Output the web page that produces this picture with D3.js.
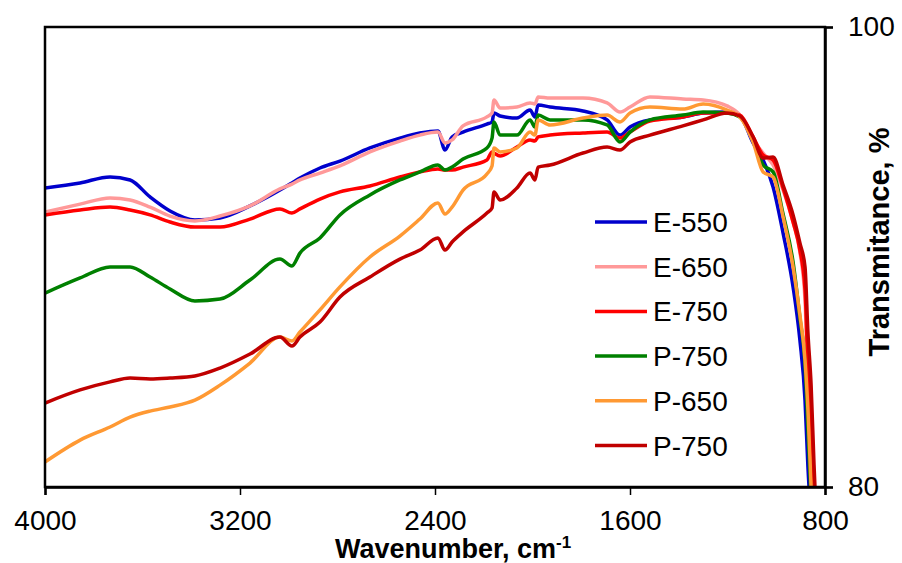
<!DOCTYPE html>
<html>
<head>
<meta charset="utf-8">
<script src="https://cdn.jsdelivr.net/npm/d3@7"></script>
<style>
  body { margin: 0; background: #fff; }
  svg { display: block; font-family: Arial, "Liberation Sans", sans-serif; }
</style>
</head>
<body>
<svg id="chart" width="902" height="563"></svg>
<script>
// wavenumber grid, cm-1 (shared by all spectra)
const wavenumbers = [4000, 3856, 3733, 3651, 3569, 3487, 3385, 3282, 3159, 3036,
  2987, 2954, 2872, 2790, 2667, 2544, 2462, 2388, 2359, 2330,
  2285, 2187, 2166, 2158, 2133, 2064, 2010, 1990, 1977, 1928,
  1793, 1694, 1641, 1600, 1518, 1383, 1300, 1202, 1149, 1095,
  1054, 1013, 972, 931, 903, 882, 870, 857, 845, 829];

// transmittance, %
const e550 = [93.00, 93.22, 93.48, 93.35, 92.61, 92.00, 91.61, 91.70, 92.22, 92.91,
  93.22, 93.43, 93.87, 94.17, 94.74, 95.17, 95.39, 95.48, 94.65, 95.22,
  95.43, 95.78, 95.87, 96.26, 96.13, 96.04, 96.39, 96.09, 96.61, 96.52,
  96.35, 95.96, 95.30, 95.65, 95.96, 96.09, 96.26, 96.30, 96.13, 94.96,
  94.22, 93.04, 91.04, 88.70, 86.39, 83.78, 80.87, 78.57, 76.83, 75.00];
const e650 = [91.96, 92.30, 92.57, 92.48, 92.17, 91.78, 91.57, 91.78, 92.22, 92.96,
  93.17, 93.35, 93.65, 93.96, 94.57, 95.04, 95.30, 95.43, 94.96, 95.09,
  95.70, 96.09, 96.26, 96.83, 96.48, 96.52, 96.70, 96.65, 96.96, 96.91,
  96.91, 96.70, 96.30, 96.52, 96.96, 96.87, 96.83, 96.57, 96.17, 95.09,
  94.52, 94.00, 92.91, 91.52, 90.22, 88.13, 84.22, 80.74, 77.26, 75.00];
const e750 = [91.83, 92.04, 92.17, 92.04, 91.83, 91.52, 91.30, 91.30, 91.65, 92.09,
  91.91, 92.09, 92.52, 92.83, 93.09, 93.48, 93.70, 93.83, 93.78, 93.78,
  93.91, 94.22, 94.57, 94.52, 94.39, 94.78, 95.09, 95.04, 95.22, 95.30,
  95.39, 95.43, 95.17, 95.43, 95.91, 96.09, 96.26, 96.26, 96.17, 95.22,
  94.43, 94.22, 93.00, 91.52, 90.30, 88.57, 85.09, 81.17, 77.70, 75.00];
const p750g = [88.43, 89.09, 89.57, 89.57, 89.13, 88.61, 88.09, 88.17, 89.00, 89.91,
  89.61, 90.17, 90.83, 91.83, 92.70, 93.35, 93.70, 94.00, 93.78, 93.91,
  94.26, 94.74, 95.17, 95.87, 95.30, 95.30, 95.96, 95.65, 96.17, 95.96,
  95.96, 95.74, 95.00, 95.43, 95.96, 96.17, 96.30, 96.26, 96.09, 95.09,
  94.00, 93.70, 91.87, 89.78, 87.35, 85.30, 82.48, 79.43, 76.83, 75.00];
const p650 = [81.09, 82.04, 82.61, 83.04, 83.30, 83.48, 83.78, 84.43, 85.39, 86.52,
  86.35, 86.74, 87.70, 88.70, 90.00, 90.91, 91.65, 92.35, 91.87, 92.17,
  92.91, 93.61, 93.96, 94.74, 94.57, 94.74, 95.43, 95.30, 95.96, 95.74,
  96.04, 96.17, 95.87, 96.26, 96.52, 96.43, 96.65, 96.39, 96.09, 95.00,
  93.70, 93.48, 91.74, 89.57, 87.48, 85.52, 83.35, 79.96, 76.83, 75.00];
const p750r = [83.65, 84.22, 84.57, 84.74, 84.70, 84.74, 84.83, 85.17, 85.78, 86.52,
  86.13, 86.52, 87.17, 88.26, 89.13, 89.91, 90.30, 90.83, 90.30, 90.65,
  91.09, 91.91, 92.13, 92.83, 92.48, 93.00, 93.65, 93.35, 93.91, 94.00,
  94.52, 94.78, 94.65, 95.00, 95.30, 95.70, 95.96, 96.26, 96.13, 95.22,
  94.30, 94.35, 93.13, 91.83, 90.61, 89.57, 86.70, 84.43, 80.96, 77.00];

const seriesNames = ["E-550", "E-650", "E-750", "P-750", "P-650", "P-750"];
const seriesValues = [e550, e650, e750, p750g, p650, p750r];
const seriesColors = ["#0000CC", "#FF9999", "#FF0000", "#008000", "#FF9933", "#C00000"];

const xTicks = [4000, 3200, 2400, 1600, 800];
const yTicks = [80, 100];

const svg = d3.select("#chart");
const mLeft = 45, mRight = 825, mTop = 27, mBottom = 487;

const x = d3.scaleLinear().domain([4000, 800]).range([mLeft, mRight]);
const y = d3.scaleLinear().domain([80, 100]).range([mBottom, mTop]);

svg.append("defs").append("clipPath").attr("id", "plotclip")
  .append("rect")
  .attr("x", mLeft).attr("y", mTop)
  .attr("width", mRight - mLeft).attr("height", mBottom - mTop);

// spectra
const line = d3.line()
  .x((d, i) => x(wavenumbers[i]))
  .y(d => y(d))
  .curve(d3.curveMonotoneX);

svg.append("g").attr("clip-path", "url(#plotclip)")
  .selectAll("path")
  .data(seriesValues)
  .join("path")
  .attr("d", d => line(d))
  .attr("fill", "none")
  .attr("stroke", (d, i) => seriesColors[i])
  .attr("stroke-width", 3.5)
  .attr("stroke-linejoin", "round");

// frame
svg.append("rect")
  .attr("x", mLeft).attr("y", mTop)
  .attr("width", mRight - mLeft).attr("height", mBottom - mTop)
  .attr("fill", "none").attr("stroke", "#000").attr("stroke-width", 2.5);

// axes
const xAxis = svg.append("g")
  .attr("transform", `translate(0,${mBottom})`)
  .call(d3.axisBottom(x).tickValues(xTicks).tickSize(8).tickPadding(15).tickFormat(d3.format("d")));
const yAxis = svg.append("g")
  .attr("transform", `translate(${mRight},0)`)
  .call(d3.axisRight(y).tickValues(yTicks).tickSize(8).tickPadding(15));

[xAxis, yAxis].forEach(g => {
  g.select(".domain").attr("stroke-width", 2.5);
  g.selectAll(".tick line").attr("stroke-width", 1.5);
  g.selectAll(".tick text").attr("font-size", 28).attr("fill", "#000")
    .attr("font-family", "Arial, 'Liberation Sans', sans-serif");
});

// axis titles
const xt = svg.append("text")
  .attr("x", 335).attr("y", 558)
  .attr("font-size", 27).attr("font-weight", "bold");
xt.append("tspan").text("Wavenumber, cm");
xt.append("tspan").attr("font-size", 17).attr("dy", -10).text("-1");

svg.append("text")
  .attr("transform", "translate(889,242) rotate(-90)")
  .attr("text-anchor", "middle")
  .attr("font-size", 29).attr("font-weight", "bold")
  .text("Transmitance, %");

// legend
const legend = svg.append("g");
const rows = legend.selectAll("g")
  .data(seriesNames)
  .join("g")
  .attr("transform", (d, i) => `translate(595,${222 + i * 44.7})`);
rows.append("line")
  .attr("x1", 0).attr("x2", 52)
  .attr("stroke", (d, i) => seriesColors[i])
  .attr("stroke-width", 3.5);
rows.append("text")
  .attr("x", 58).attr("dy", "0.36em")
  .attr("font-size", 28)
  .text(d => d);
</script>
</body>
</html>
